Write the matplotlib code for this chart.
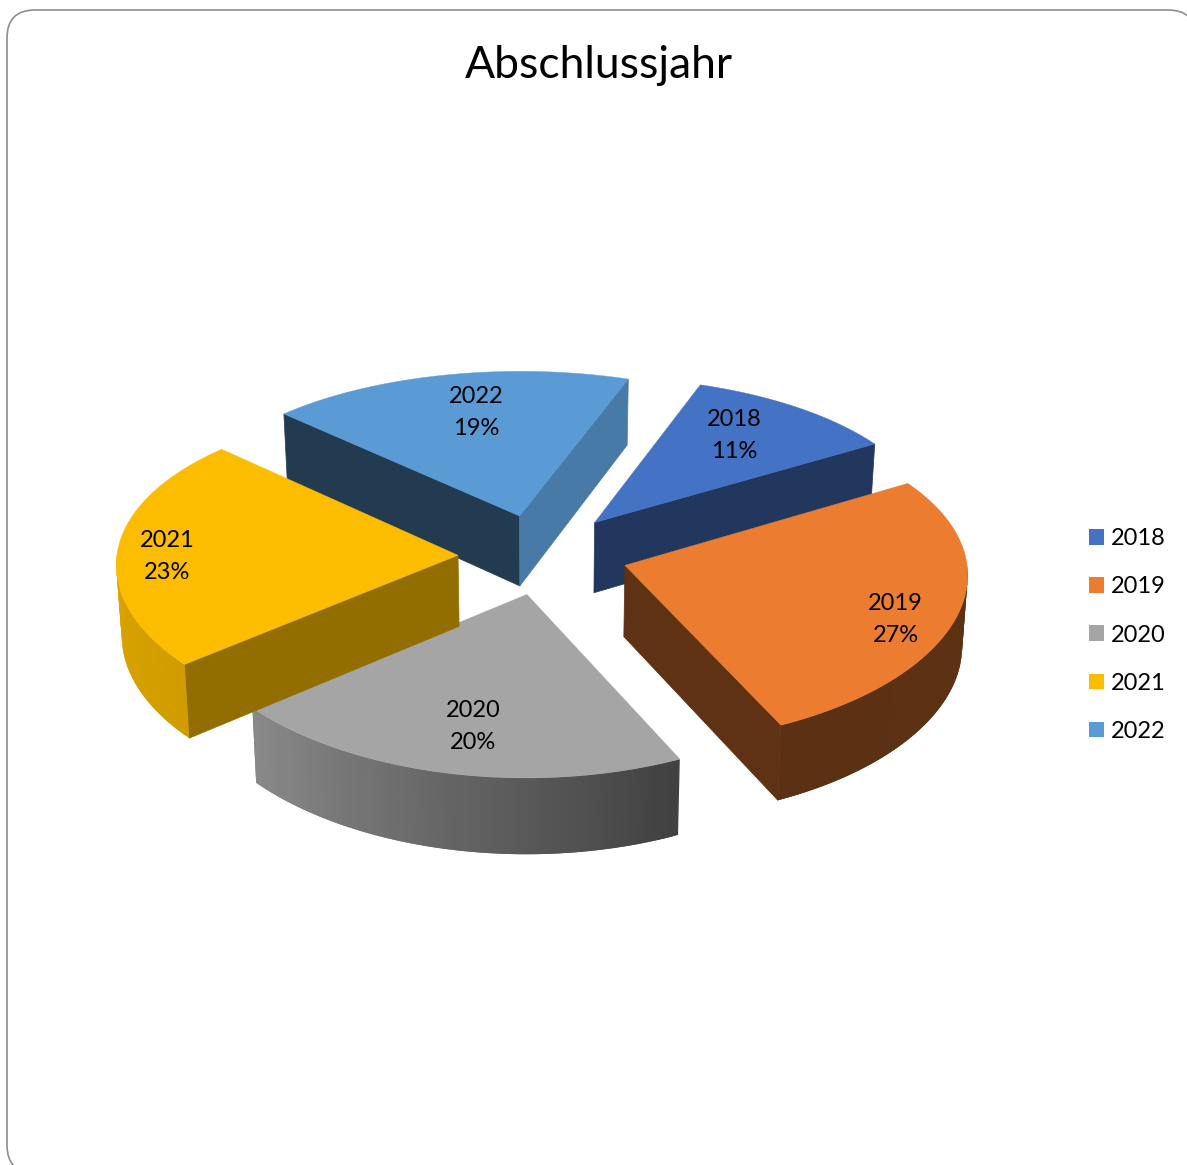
import numpy as np
import matplotlib
matplotlib.use("Agg")
import matplotlib.pyplot as plt
from matplotlib.patches import FancyBboxPatch, Patch, Polygon

plt.rcParams['font.family'] = ['Lato', 'DejaVu Sans']

# dati
title = 'Abschlussjahr'
years = ['2018', '2019', '2020', '2021', '2022']
percent = [11, 27, 20, 23, 19]
colors = ['#4472C4', '#EB7C30', '#A5A5A5', '#FCBD00', '#5B9BD5']

# layout della torta, in pixel dell'immagine
W, H = 1187, 1165
cx, cy = 543, 554
R = 341
tilt = 0.475
explode = 85 / R
start_angle = 18
depth = 71
persp_x = 0.048
persp_y = 0.08
bottom_scale = 0.987

# correzione degli angoli dovuta alla prospettiva dell'originale (gradi)
edge_shift = [1.5, 1, 0, 3.5, 4, 1.5]

# ombre delle facce laterali (inizio, fine) e del bordo curvo
side_shade = [(0.40, 0.48), (0.40, 0.40), (0.40, 0.40), (0.58, 0.58), (0.38, 0.79)]
rim_angles = [90, 155, 227, 270]
rim_shades = [0.40, 0.39, 0.82, 0.87]

# etichette: angolo e raggio relativi allo spicchio
label_angle = [36.6, 112.7, 191.5, 269.3, 349]
label_radius = [0.72, 0.84, 0.75, 0.852, 0.71]
draw_order = [4, 0, 2, 3, 1]


def shade(col, f):
    return tuple(np.array(matplotlib.colors.to_rgb(col)) * f)


def project(x, y):
    # x a destra, y verso chi guarda, raggio unitario
    px = cx + R * x / (1 - persp_x * y)
    py = cy + R * tilt * y / (1 - persp_y * y)
    return px, py


def lower(px, py, y):
    # stesso punto sulla faccia inferiore
    return cx + (px - cx) * bottom_scale, py + depth * (1 + 0.06 * y)


def rim_point(a, ox, oy, r=1.0):
    t = np.radians(a)
    return ox + r * np.sin(t), oy - r * np.cos(t)


def draw_side(ax, ang, ox, oy, col):
    x1, y1 = rim_point(ang, ox, oy)
    p0, p1 = project(ox, oy), project(x1, y1)
    quad = [p0, p1, lower(*p1, y1), lower(*p0, oy)]
    ax.add_patch(Polygon(quad, closed=True, fc=col, ec=col, lw=0.5))


fig = plt.figure(figsize=(W / 100, H / 100), dpi=100)
ax = fig.add_axes([0, 0, 1, 1])
ax.set_xlim(0, W)
ax.set_ylim(H, 0)
ax.axis('off')

ax.add_patch(FancyBboxPatch((7 + 28, 10 + 28), 1196 - 7 - 56, 1173 - 10 - 56,
                            boxstyle='round,pad=28,rounding_size=28',
                            fc='white', ec='#8E8E8E', lw=1.2))

edges = start_angle + np.concatenate([[0], np.cumsum(percent)]) * 3.6
drawn = edges + np.array(edge_shift)

for i in draw_order:
    a0, a1 = drawn[i], drawn[i + 1]
    mid = (edges[i] + edges[i + 1]) / 2
    ox, oy = rim_point(mid, 0, 0, explode)

    # facce radiali visibili
    if -np.sin(np.radians(a0)) > 0:
        draw_side(ax, a0, ox, oy, shade(colors[i], side_shade[i][0]))
    if np.sin(np.radians(a1)) > 0:
        draw_side(ax, a1, ox, oy, shade(colors[i], side_shade[i][1]))

    # bordo curvo a strisce sovrapposte, cosi' non si vedono le giunture
    angs = np.linspace(a0, a1, 80)
    for k in range(len(angs) - 1):
        bm = ((angs[k] + angs[k + 1]) / 2) % 360
        if not 90 < bm < 270:
            continue
        col = shade(colors[i], np.interp(bm, rim_angles, rim_shades))
        b1 = angs[min(k + 2, len(angs) - 1)]
        x0, y0 = rim_point(angs[k], ox, oy)
        x1, y1 = rim_point(b1, ox, oy)
        p0, p1 = project(x0, y0), project(x1, y1)
        quad = [p0, p1, lower(*p1, y1), lower(*p0, y0)]
        ax.add_patch(Polygon(quad, closed=True, fc=col, ec='none'))

    # faccia superiore
    xs, ys = rim_point(angs, ox, oy)
    px, py = project(np.append(xs, ox), np.append(ys, oy))
    ax.add_patch(Polygon(np.column_stack([px, py]), closed=True, fc=colors[i], ec=colors[i], lw=0.3))

for i in range(len(years)):
    mid = (edges[i] + edges[i + 1]) / 2
    ox, oy = rim_point(mid, 0, 0, explode)
    lx, ly = project(*rim_point(label_angle[i], ox, oy, label_radius[i]))
    ax.text(lx, ly, f'{years[i]}\n{percent[i]}%', ha='center', va='center',
            fontsize=17, color='black', linespacing=1.65)

ax.text(599, 66, title, ha='center', va='center', fontsize=32, color='black')

handles = [Patch(facecolor=c, label=y) for c, y in zip(colors, years)]
ax.legend(handles=handles, loc='center left', bbox_to_anchor=(1089, 635),
          bbox_transform=ax.transData, frameon=False, fontsize=17,
          handlelength=0.64, handleheight=0.64, handletextpad=0.3,
          labelspacing=1.15, borderpad=0, borderaxespad=0)

fig.savefig('out.png', dpi=100)
